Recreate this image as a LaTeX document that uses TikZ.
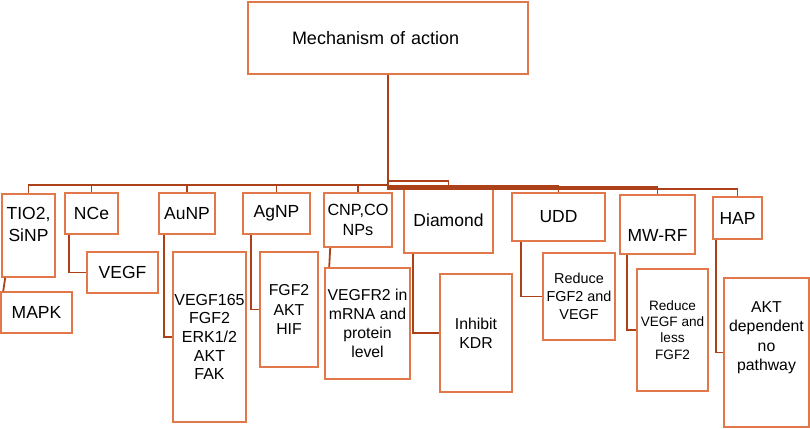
\documentclass[tikz,border=0pt]{standalone}
\usepackage{fontspec}
\setmainfont{Liberation Sans}
\usetikzlibrary{calc}

\definecolor{boxline}{RGB}{226,120,74}
\definecolor{linkline}{RGB}{172,64,24}

\tikzset{
  box/.style={draw=boxline, line width=1.6pt, inner sep=0pt, align=center},
  sz/.style 2 args={minimum width=#1pt, minimum height=#2pt},
  link/.style={draw=linkline, line width=1.8pt},
  big/.style={font=\fontsize{17.5}{22}\selectfont},
  mid/.style={font=\fontsize{15.8}{19.2}\selectfont},
  small/.style={font=\fontsize{13.6}{16.2}\selectfont}
}

\begin{document}
\begin{tikzpicture}[x=1pt,y=-1pt]
  \useasboundingbox (0,0) rectangle (810,428);

  \node[box,sz={280}{72},font=\fontsize{18}{22}\selectfont,text width=192pt,align=left] (root) at (388,38) {Mechanism of action};

  % first row
  \node[box,big,sz={53}{83},text depth=22pt] (tio) at (28.5,235.5) {TIO2,\\SiNP};
  \node[box,big,sz={53}{41}] (nce) at (91.5,213.5) {NCe};
  \node[box,big,sz={56}{41}] (au) at (187,213.5) {AuNP};
  \node[box,big,sz={67}{41}] (ag) at (276.5,213.5) {AgNP};
  \node[box,sz={68}{54},font=\fontsize{16.2}{19.5}\selectfont] (cnp) at (358,220) {CNP,CO\\NPs};
  \node[box,big,sz={89}{65}] (dia) at (448.5,220.5) {Diamond};
  \node[box,big,sz={93}{48}] (udd) at (558.5,217) {UDD};
  \node[box,big,sz={75}{59},text height=33pt] (mw) at (657.5,224.5) {MW-RF};
  \node[box,big,sz={49}{42}] (hap) at (737.5,218) {HAP};

  % second row
  \node[box,big,sz={71}{41}] (mapk) at (36.5,312.5) {MAPK};
  \node[box,big,sz={71}{41}] (vegf) at (122.5,272.5) {VEGF};
  \node[box,mid,sz={73}{170},font=\fontsize{16}{18.7}\selectfont] (audet) at (209.5,337) {VEGF165\\FGF2\\ERK1/2\\AKT\\FAK};
  \node[box,mid,sz={58}{115}] (agdet) at (289,309.5) {FGF2\\AKT\\HIF};
  \node[box,mid,sz={85}{111}] (cnpdet) at (367.5,323.5) {VEGFR2 in\\mRNA and\\protein\\level};
  \node[box,mid,sz={72}{118}] (diadet) at (476,333) {Inhibit\\KDR};
  \node[box,sz={72}{87},font=\fontsize{14.4}{18}\selectfont] (udddet) at (579,296.5) {Reduce\\FGF2 and\\VEGF};
  \node[box,small,sz={71}{122}] (mwdet) at (672.5,330) {Reduce\\VEGF and\\less\\FGF2};
  \node[box,mid,sz={85}{149},text depth=33pt] (hapdet) at (766.5,352.5) {AKT\\dependent\\no\\pathway};

  % root to first row
  \foreach \kid/\bus in {tio/110.5, nce/110.5, au/110.5, ag/110.5, cnp/110.5, dia/106, udd/111, mw/112.5, hap/114}
    \draw[link] (root.south) -- ++(0,\bus) -| (\kid.north);

  % first row to second row
  \draw[link] ([xshift=4pt]tio.south west) -- ([xshift=3pt]mapk.north west);
  \draw[link] ([xshift=5pt]nce.south west) |- (vegf.west);
  \draw[link] ([xshift=6pt]au.south west) |- (audet.west);
  \draw[link] ([xshift=9pt]ag.south west) |- (agdet.west);
  \draw[link] ([xshift=7pt]cnp.south west) -- ([xshift=5pt]cnpdet.north west);
  \draw[link] ([xshift=10pt]dia.south west) |- (diadet.west);
  \draw[link] ([xshift=10pt]udd.south west) |- (udddet.west);
  \draw[link] ([xshift=8pt]mw.south west) |- (mwdet.west);
  \draw[link] ([xshift=4pt]hap.south west) |- (hapdet.west);
\end{tikzpicture}
\end{document}
